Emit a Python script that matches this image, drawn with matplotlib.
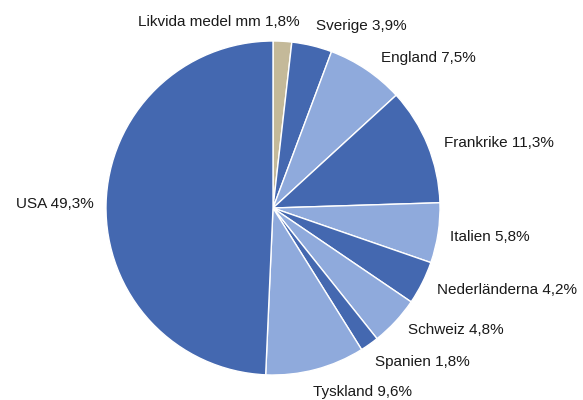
import numpy as np
import matplotlib.pyplot as plt

# Portfolio allocation per country, clockwise from top
labels = ['Likvida medel mm', 'Sverige', 'England', 'Frankrike', 'Italien',
          'Nederländerna', 'Schweiz', 'Spanien', 'Tyskland', 'USA']
shares = [1.8, 3.9, 7.5, 11.3, 5.8, 4.2, 4.8, 1.8, 9.6, 49.3]

dark = '#4468b0'
light = '#8faadc'
tan = '#c4b999'
colors = [tan, dark, light, dark, light, dark, light, dark, light, dark]

# label anchors (in pie radii), like Excel's best-fit placement
label_xy = [(0.162, 1.114), (0.257, 1.090), (0.647, 0.898), (1.024, 0.389),
            (1.060, -0.174), (0.982, -0.491), (0.808, -0.731), (0.611, -0.922),
            (0.240, -1.102), (-1.072, 0.024)]
label_ha = ['right', 'left', 'left', 'left', 'left', 'left', 'left', 'left',
            'left', 'right']

plt.rcParams['font.family'] = ['Liberation Sans', 'DejaVu Sans']

fig = plt.figure(figsize=(5.83, 4.0), dpi=100)
ax = fig.add_axes([106 / 583, 25 / 400, 334 / 583, 334 / 400])

wedges, _ = ax.pie(shares, colors=colors, startangle=90, counterclock=False,
                   radius=1.0, wedgeprops=dict(edgecolor='white', linewidth=1.0))

texts = [l + ' ' + ('%.1f%%' % v).replace('.', ',') for l, v in zip(labels, shares)]
for t, (x, y), ha in zip(texts, label_xy, label_ha):
    ax.text(x, y, t, ha=ha, va='center', fontsize=11,
            color='#1a1a1a', clip_on=False)

ax.set_xlim(-1, 1)
ax.set_ylim(-1, 1)
ax.axis('off')

fig.savefig('out.png', dpi=100)
